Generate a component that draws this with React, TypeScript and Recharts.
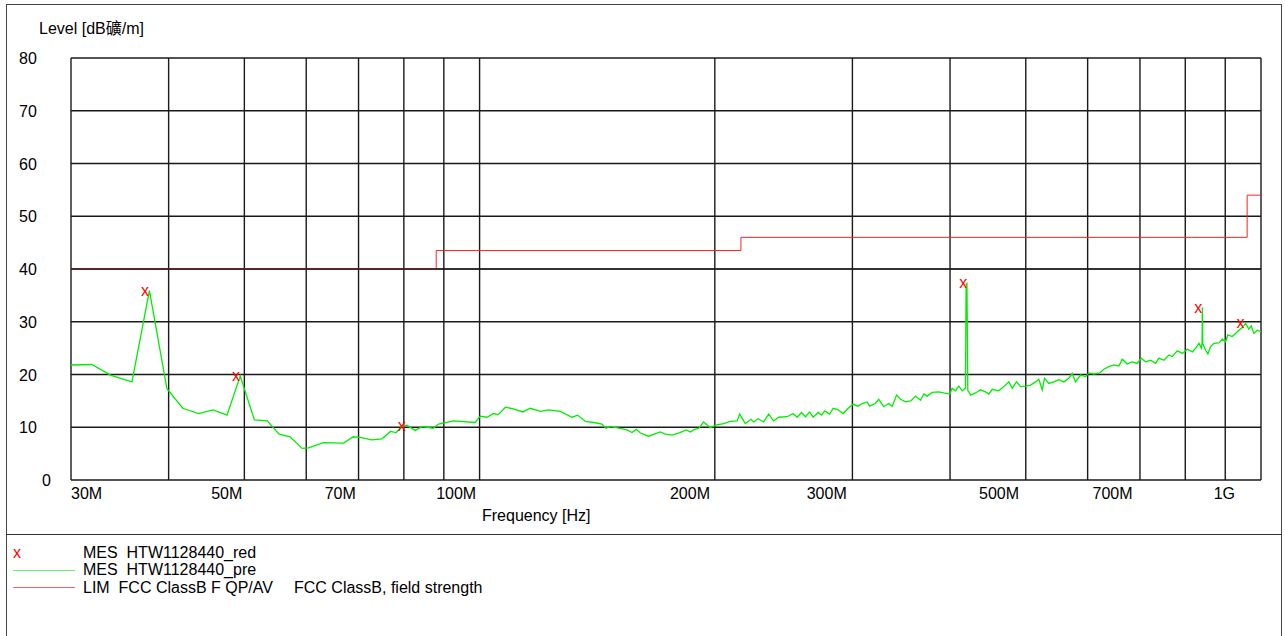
import React from "react";
import { CartesianGrid, ComposedChart, Line, ReferenceLine, XAxis, YAxis } from "recharts";

const FONT = '"Liberation Sans", Arial, "Noto Sans CJK SC", sans-serif';

// x grid in MHz, labelled ones get text
const gridFreqs = [30, 40, 50, 60, 70, 80, 90, 100, 200, 300, 400, 500, 600, 700, 800, 900, 1000];
const freqLabels: Record<number, string> = {
  30: "30M", 50: "50M", 70: "70M", 100: "100M", 200: "200M",
  300: "300M", 500: "500M", 700: "700M", 1000: "1G",
};
const levelTicks = [0, 10, 20, 30, 40, 50, 60, 70, 80];

// preview scan (MHz / dBuV/m)
const preFreq = [
  30, 31.9, 33.7, 35.9, 37.8, 39.8, 41.7, 43.7, 45.6, 47.5, 49.4, 51.5, 53.5, 55.4, 57.2, 59.3, 60.4, 63.1, 67.0, 68.9,
  70.3, 72.8, 75.0, 76.9, 78.2, 79.5, 80.7, 82.7, 84.4, 85.8, 87.2, 88.6, 92.6, 98.7, 100.2, 102.2, 104.2, 105.7, 107.9, 110.5,
  113.6, 116.1, 119.6, 122.5, 126.9, 131.3, 133.5, 136.6, 140.0, 143.4, 145.1, 147.0, 151.4, 154.4, 156.7, 158.7, 160.6, 164.6, 170.3, 172.9,
  176.3, 179.7, 183.9, 186.1, 187.9, 190.7, 193.5, 197.4, 200.3, 205.3, 209.4, 213.6, 215.2, 218.8, 222.5, 224.3, 227.2, 230.9, 234.4, 237.9,
  241.4, 247.5, 251.9, 254.9, 258.2, 261.2, 264.5, 267.2, 271.2, 273.9, 276.5, 280.6, 283.5, 286.8, 292.0, 295.4, 300.6, 304.8, 308.8, 313.3,
  315.6, 320.9, 324.2, 329.1, 333.9, 337.3, 341.7, 345.7, 350.9, 356.2, 361.4, 366.7, 370.3, 373.9, 379.4, 386.9, 392.6, 399.7, 402.5, 406.4,
  410.4, 414.6, 418.6, 419.4, 420.4, 421.5, 422.8, 424.9, 431.2, 437.6, 444.1, 448.4, 452.9, 461.7, 468.6, 475.6, 480.4, 486.6, 492.4, 499.7,
  507.1, 514.6, 519.6, 524.9, 528.4, 535.1, 543.1, 551.2, 559.4, 567.7, 573.4, 578.9, 587.6, 596.4, 602.2, 611.1, 621.9, 629.3, 638.7, 648.2,
  657.8, 664.4, 674.2, 684.2, 694.3, 702.5, 711.6, 722.2, 732.9, 740.0, 751.2, 762.3, 769.9, 781.3, 793.1, 804.9, 816.9, 824.9, 832.9, 838.8,
  840.6, 841.3, 842.2, 849.4, 855.1, 861.9, 870.3, 883.2, 892.2, 900.8, 906.9, 918.9, 932.5, 946.4, 955.6, 964.7, 971.6, 979.1, 989.0, 1000,
];
const preLevel = [
  21.8, 21.9, 19.9, 18.6, 35.9, 17.3, 13.6, 12.6, 13.3, 12.3, 19.7, 11.4, 11.2, 8.7, 8.2, 6.0, 6.1, 7.1, 7.0, 8.2,
  8.1, 7.6, 7.8, 9.2, 9.0, 10.1, 10.4, 9.4, 10.1, 10.0, 9.8, 10.6, 11.2, 10.9, 12.1, 11.9, 12.6, 12.4, 13.8, 13.5,
  12.9, 13.6, 13.0, 13.3, 13.0, 11.9, 12.3, 11.1, 10.9, 10.6, 9.8, 10.1, 9.8, 9.5, 9.0, 9.6, 8.9, 8.3, 9.1, 8.7,
  8.5, 8.9, 9.5, 9.1, 9.5, 9.8, 11.0, 9.9, 10.4, 10.7, 11.1, 11.2, 12.5, 10.7, 11.5, 11.0, 11.6, 11.0, 12.5, 11.2,
  11.9, 12.0, 12.6, 11.9, 12.8, 12.0, 12.9, 11.9, 12.8, 12.3, 13.1, 12.5, 13.6, 13.4, 12.6, 13.4, 14.4, 14.0, 14.5, 14.8,
  14.0, 14.5, 15.3, 13.9, 14.5, 14.0, 16.1, 15.3, 14.8, 15.0, 15.9, 15.1, 16.3, 15.9, 16.6, 16.7, 16.5, 16.3, 17.4, 16.9,
  17.8, 16.9, 17.4, 37.0, 37.2, 16.9, 16.7, 16.1, 16.5, 17.1, 16.7, 16.3, 17.2, 16.9, 17.7, 18.6, 17.4, 18.6, 17.7, 17.8,
  18.0, 18.6, 19.1, 17.1, 19.3, 18.3, 18.6, 19.0, 18.6, 19.3, 20.2, 18.6, 19.9, 19.6, 20.3, 20.1, 20.3, 21.0, 21.5, 21.8,
  21.6, 22.9, 22.0, 22.4, 22.1, 23.1, 22.4, 22.7, 22.1, 23.1, 22.7, 23.7, 23.4, 24.5, 24.0, 24.8, 24.3, 25.0, 25.9, 25.0,
  26.0, 32.7, 25.9, 24.6, 23.9, 25.3, 25.9, 26.0, 26.7, 26.2, 27.5, 27.2, 28.1, 28.9, 29.7, 28.6, 29.2, 27.8, 28.4, 28.1,
];

// final (reduced) measurement points
const redFreq = [37.3, 48.8, 79.5, 415.8, 831.4, 941.7];
const redLevel = [35.6, 19.5, 10.1, 37.1, 32.5, 29.6];

// FCC Class B limit, step after each frequency
const limFreq = [30, 88, 216, 960, 1000];
const limLevel = [40, 43.5, 46, 54, 54];

const preData = preFreq.map((f, i) => ({ f, v: preLevel[i] }));
const redData = redFreq.map((f, i) => ({ f, v: redLevel[i] }));
const limData = limFreq.map((f, i) => ({ f, v: limLevel[i] }));

function FreqTick(props: any) {
  const { x, payload } = props;
  const label = freqLabels[payload.value];
  if (!label) return <g />;
  let anchor = "end";
  let dx = -2 - (x - 244) * 0.006;
  if (payload.value === 30) {
    anchor = "start";
    dx = 0;
  }
  if (payload.value === 1000) dx = -26;
  return (
    <text x={x + dx} y={499} textAnchor={anchor} fontSize={16} fontFamily={FONT} fill="#000">
      {label}
    </text>
  );
}

function LevelTick(props: any) {
  const { y, payload } = props;
  return (
    <text x={payload.value === 0 ? 42 : 19} y={y + 6} fontSize={16} fontFamily={FONT} fill="#000">
      {payload.value}
    </text>
  );
}

function RedX(props: any) {
  const { cx, cy, index } = props;
  return (
    <text key={"rx" + index} x={cx} y={cy + 4} textAnchor="middle" fontSize={16} fontFamily={FONT} fill="#ff0000">
      x
    </text>
  );
}

export default function App() {
  return (
    <div style={{ position: "absolute", left: 0, top: 0, width: 1285, height: 636, overflow: "hidden", background: "#fff" }}>
      <svg width={1285} height={636} style={{ position: "absolute", left: 0, top: 0 }}>
        <rect x={6.5} y={4.5} width={1275} height={700} fill="none" stroke="#444" />
        <line x1={6} x2={1282} y1={534.5} y2={534.5} stroke="#333" />
        <text x={39} y={34} fontSize={16} fontFamily={FONT} fill="#000">Level [dB礦/m]</text>
        <text x={482} y={521} fontSize={16} fontFamily={FONT} fill="#000">Frequency [Hz]</text>
        <text x={13} y={557.5} fontSize={16} fontFamily={FONT} fill="#ff0000">x</text>
        <line x1={13} x2={75} y1={570.5} y2={570.5} stroke="#70f070" />
        <line x1={13} x2={75} y1={587.5} y2={587.5} stroke="#ff6060" />
        <g fontSize={16} fontFamily={FONT} fill="#000">
          <text x={83} y={557.5} xmlSpace="preserve" style={{ whiteSpace: "pre" }}>MES  HTW1128440_red</text>
          <text x={83} y={575} xmlSpace="preserve" style={{ whiteSpace: "pre" }}>MES  HTW1128440_pre</text>
          <text x={83} y={592.5} xmlSpace="preserve" style={{ whiteSpace: "pre" }}>LIM  FCC ClassB F QP/AV</text>
          <text x={294} y={592.5}>FCC ClassB, field strength</text>
        </g>
      </svg>
      <div style={{ position: "absolute", left: 0, top: 0 }}>
        <ComposedChart width={1285} height={540} margin={{ top: 58, right: 24, bottom: 0, left: 0 }}>
          <CartesianGrid stroke="#1a1a1a" strokeWidth={1.4} />
          <XAxis
            dataKey="f"
            type="number"
            scale="log"
            domain={[30, 1000]}
            ticks={gridFreqs}
            interval={0}
            allowDataOverflow
            axisLine={false}
            tickLine={false}
            height={60}
            tick={<FreqTick />}
          />
          <YAxis
            type="number"
            domain={[0, 80]}
            ticks={levelTicks}
            interval={0}
            width={71}
            axisLine={false}
            tickLine={false}
            tick={<LevelTick />}
          />
          <Line data={limData} dataKey="v" type="stepAfter" stroke="#ff2020" strokeWidth={1} dot={false} activeDot={false} isAnimationActive={false} />
          <ReferenceLine y={40} stroke="#1a1a1a" strokeOpacity={0.75} strokeWidth={1.4} />
          <Line data={preData} dataKey="v" type="linear" stroke="#00ee00" strokeWidth={1.3} dot={false} activeDot={false} isAnimationActive={false} />
          <Line data={redData} dataKey="v" stroke="none" dot={RedX} activeDot={false} isAnimationActive={false} />
        </ComposedChart>
      </div>
    </div>
  );
}
